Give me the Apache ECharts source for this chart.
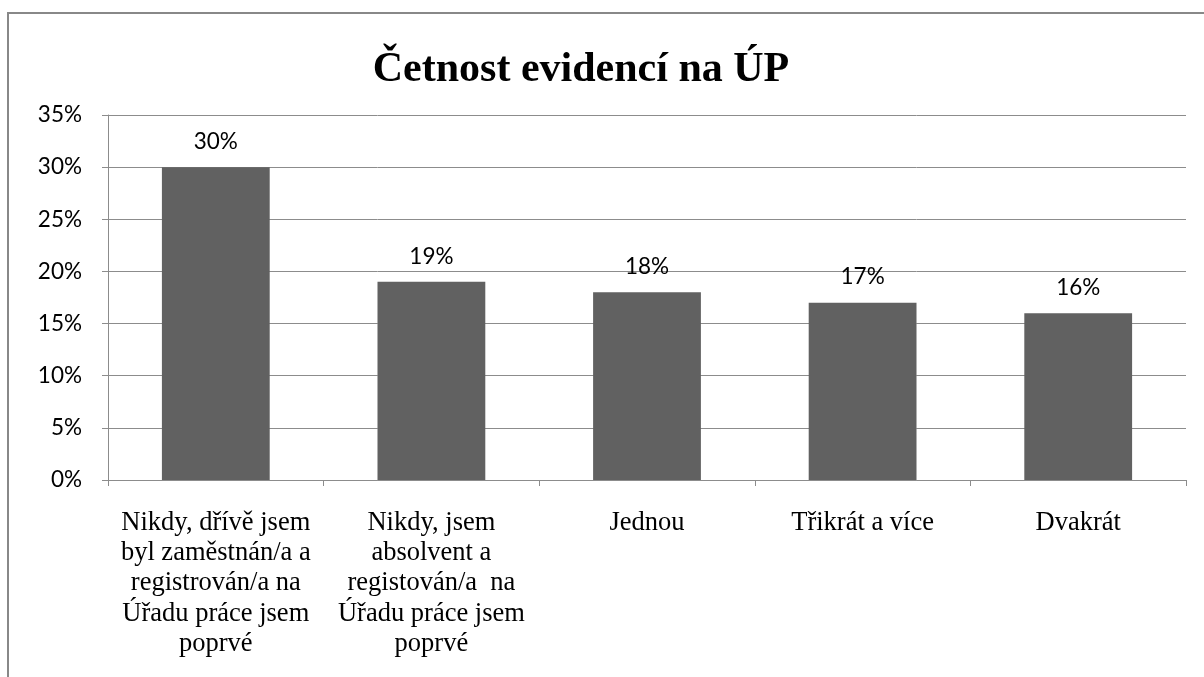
<!DOCTYPE html>
<html>
<head>
<meta charset="utf-8">
<script src="https://cdn.jsdelivr.net/npm/echarts@6/dist/echarts.min.js"></script>
<style>
  html, body { margin: 0; padding: 0; background: #fff; }
  #chart { width: 1204px; height: 677px; }
</style>
</head>
<body>
<div id="chart"></div>
<script>
// categories and values
const categories = [
  'Nikdy, dřívě jsem\nbyl zaměstnán/a a\nregistrován/a na\nÚřadu práce jsem\npoprvé',
  'Nikdy, jsem\nabsolvent a\nregistován/a  na\nÚřadu práce jsem\npoprvé',
  'Jednou',
  'Třikrát a více',
  'Dvakrát'
];
const shares = [30, 19, 18, 17, 16];
const yTicks = [0, 5, 10, 15, 20, 25, 30, 35];

const chart = echarts.init(document.getElementById('chart'));

chart.setOption({
  animation: false,
  title: {
    text: 'Četnost evidencí na ÚP',
    left: 576,
    top: 44,
    textAlign: 'center',
    textStyle: {
      fontFamily: '"Liberation Serif", "Times New Roman", serif',
      fontSize: 42,
      fontWeight: 'bold',
      color: '#000'
    }
  },
  graphic: [
    {
      type: 'rect',
      shape: { x: 8, y: 13, width: 1400, height: 900 },
      style: { fill: 'none', stroke: '#888', lineWidth: 2 },
      silent: true
    }
  ],
  grid: { left: 108, right: 18, top: 115, bottom: 197, containLabel: false, outerBoundsMode: 'none' },
  xAxis: {
    type: 'category',
    data: categories,
    axisLine: { lineStyle: { color: '#8c8c8c', width: 1 } },
    axisTick: { show: true, length: 6, lineStyle: { color: '#8c8c8c' } },
    axisLabel: {
      interval: 0,
      margin: 28,
      fontFamily: '"Liberation Serif", "Times New Roman", serif',
      fontSize: 26.5,
      lineHeight: 30.2,
      color: '#000'
    }
  },
  yAxis: {
    type: 'value',
    min: yTicks[0],
    max: yTicks[yTicks.length - 1],
    interval: 5,
    axisLine: { show: true, lineStyle: { color: '#8c8c8c', width: 1 } },
    axisTick: { show: true, length: 6, lineStyle: { color: '#8c8c8c' } },
    axisLabel: {
      margin: 26,
      formatter: v => v + '%',
      fontFamily: 'Lato, "Open Sans", sans-serif',
      fontSize: 22.5,
      color: '#000'
    },
    splitLine: { lineStyle: { color: '#8c8c8c', width: 1 } }
  },
  series: [
    {
      type: 'bar',
      data: shares,
      barWidth: '50%',
      itemStyle: { color: '#616161' },
      label: {
        show: true,
        position: 'top',
        distance: 14,
        formatter: p => p.value + '%',
        fontFamily: 'Lato, "Open Sans", sans-serif',
        fontSize: 22.5,
        color: '#000'
      }
    }
  ]
});
</script>
</body>
</html>
